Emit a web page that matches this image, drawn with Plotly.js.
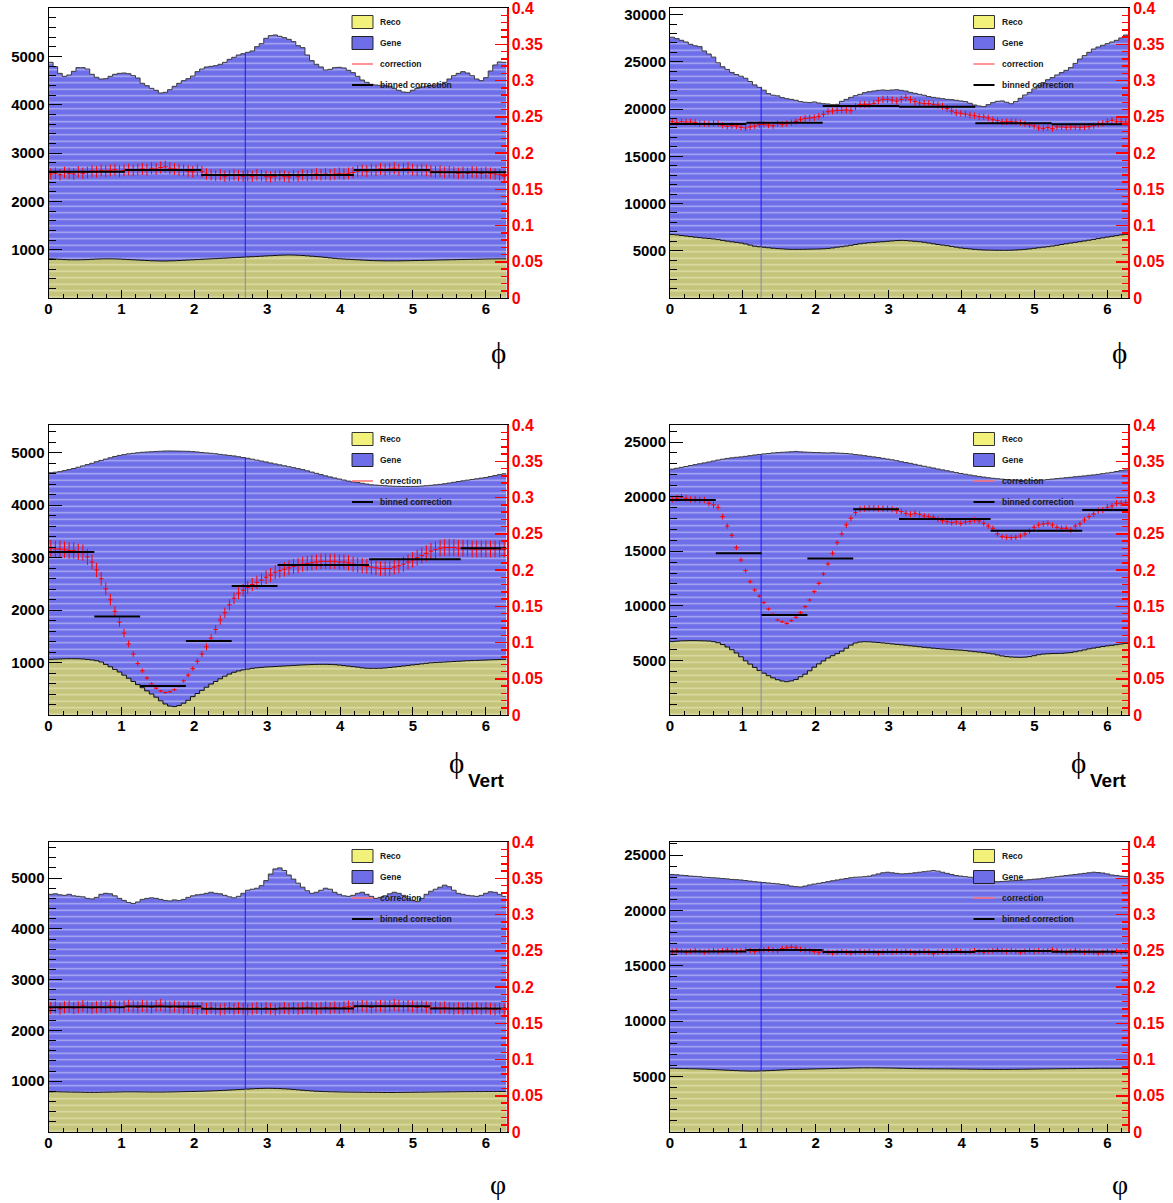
<!DOCTYPE html>
<html><head><meta charset="utf-8">
<script src="https://cdn.plot.ly/plotly-3.0.1.min.js"></script>
<style>body{margin:0;background:#fff}#chart{width:1173px;height:1203px}</style>
</head><body><div id="chart"></div>
<script>
// ---------- data (100 fine bins in phi, 0..2pi) ----------
const legendLabels = ['Reco', 'Gene', 'correction', 'binned correction'];
const yTickLabelsSmall = [1000, 2000, 3000, 4000, 5000];
const yTickLabelsLarge = [5000, 10000, 15000, 20000, 25000, 30000];
const xTickLabels = [0, 1, 2, 3, 4, 5, 6];
const redTickVals = [0, 0.05, 0.1, 0.15, 0.2, 0.25, 0.3, 0.35, 0.4];
const redTickText = ['0', '0.05', '0.1', '0.15', '0.2', '0.25', '0.3', '0.35', '0.4'];

// Panel 1 (top left, phi)
const gene1 = [4876,4786,4648,4586,4614,4690,4766,4766,4738,4628,
 4566,4531,4538,4586,4628,4648,4655,4641,4600,4552,
 4442,4393,4338,4297,4242,4255,4310,4380,4442,4497,
 4538,4593,4683,4738,4780,4793,4807,4835,4876,4938,
 4980,5028,5055,5083,5111,5200,5262,5373,5428,5442,
 5414,5387,5352,5304,5221,5180,5028,4911,4835,4780,
 4717,4731,4766,4773,4759,4711,4662,4586,4510,4462,
 4421,4407,4400,4393,4380,4338,4297,4262,4255,4297,
 4338,4366,4380,4393,4407,4421,4462,4531,4600,4648,
 4683,4655,4600,4531,4497,4559,4697,4821,4883,4876];
const reco1 = [810,805,800,795,790,790,790,792,795,800,
 805,808,810,810,808,805,800,795,790,785,
 780,775,770,768,765,765,768,770,775,780,
 785,790,795,800,805,810,815,820,825,830,
 835,840,845,850,855,860,865,870,875,880,
 885,888,890,888,885,880,872,865,857,850,
 840,830,820,812,805,800,795,790,785,780,
 775,772,770,768,768,768,768,770,772,774,
 776,778,780,782,784,786,788,790,792,794,
 796,798,800,802,804,806,808,808,810,810];
const corr1 = [0.171,0.172,0.170,0.173,0.172,0.171,0.174,0.172,0.173,0.175,
 0.174,0.176,0.175,0.176,0.177,0.175,0.176,0.177,0.176,0.177,
 0.178,0.177,0.179,0.178,0.180,0.181,0.179,0.178,0.177,0.176,
 0.175,0.174,0.176,0.174,0.171,0.170,0.169,0.170,0.168,0.169,
 0.170,0.169,0.168,0.169,0.168,0.170,0.169,0.168,0.167,0.168,
 0.169,0.168,0.167,0.169,0.168,0.170,0.169,0.170,0.171,0.170,
 0.171,0.170,0.171,0.172,0.171,0.172,0.173,0.175,0.176,0.175,
 0.177,0.176,0.178,0.177,0.178,0.179,0.177,0.178,0.179,0.177,
 0.176,0.177,0.176,0.175,0.174,0.175,0.173,0.174,0.173,0.172,
 0.173,0.172,0.174,0.173,0.172,0.173,0.172,0.171,0.170,0.168];
const binned1 = [0.174, 0.1766, 0.1697, 0.1697, 0.1766, 0.1733];

// Panel 2 (top right, phi)
const gene2 = [27600,27460,27280,27100,26860,26700,26610,26150,25830,25500,
 24900,24480,24200,23880,23660,23480,23260,22920,22560,22300,
 22000,21640,21470,21400,21210,21100,21030,20930,20790,20720,
 20680,20750,20640,20570,20540,20470,20500,20820,21030,21240,
 21420,21560,21740,21840,21910,21980,22020,21980,22020,22050,
 21980,21910,21770,21670,21560,21460,21320,21240,21170,21100,
 21030,21000,20930,20860,20790,20610,20430,20330,20260,20470,
 20680,20820,20860,20720,20570,20790,21140,21490,21770,22130,
 22480,22800,23110,23330,23610,23860,24100,24390,24840,25300,
 25660,26010,26360,26570,26750,26930,27100,27280,27530,27840];
const reco2 = [6720,6680,6620,6560,6500,6440,6390,6340,6300,6250,
 6180,6100,6020,5950,5890,5820,5720,5600,5480,5420,
 5370,5320,5270,5230,5200,5170,5150,5150,5150,5160,
 5170,5180,5190,5210,5250,5300,5380,5430,5500,5580,
 5660,5740,5800,5850,5890,5930,5960,6000,6040,6080,
 6100,6080,6040,6000,5960,5900,5820,5740,5660,5600,
 5540,5460,5380,5300,5250,5200,5150,5110,5080,5070,
 5060,5050,5050,5050,5060,5080,5110,5150,5200,5260,
 5320,5380,5430,5500,5580,5660,5740,5820,5890,5960,
 6040,6120,6200,6290,6370,6450,6530,6600,6680,6740];
const corr2 = [0.2432,0.2423,0.2432,0.2428,0.2428,0.2423,0.2405,0.2405,0.2400,0.2409,
 0.2405,0.2382,0.2368,0.2377,0.2373,0.2354,0.2345,0.2359,0.2373,0.2391,
 0.2396,0.2386,0.2377,0.2405,0.2396,0.2405,0.2418,0.2437,0.2460,0.2478,
 0.2483,0.2488,0.2506,0.2534,0.2570,0.2579,0.2589,0.2589,0.2593,0.2584,
 0.2639,0.2667,0.2671,0.2671,0.2685,0.2722,0.2740,0.2740,0.2731,0.2717,
 0.2740,0.2763,0.2736,0.2708,0.2690,0.2685,0.2681,0.2671,0.2662,0.2644,
 0.2616,0.2579,0.2556,0.2547,0.2538,0.2524,0.2515,0.2501,0.2497,0.2483,
 0.2460,0.2446,0.2428,0.2432,0.2432,0.2428,0.2418,0.2400,0.2386,0.2373,
 0.2345,0.2340,0.2350,0.2336,0.2359,0.2359,0.2354,0.2359,0.2359,0.2354,
 0.2359,0.2363,0.2377,0.2396,0.2409,0.2432,0.2451,0.2432,0.2432,0.2428];
const binned2 = [0.2400, 0.2418, 0.2648, 0.2639, 0.2409, 0.2396];

// Panel 3 (middle left, phi_Vert)
const gene3 = [4620,4630,4640,4660,4680,4700,4725,4750,4775,4800,
 4830,4855,4880,4905,4930,4950,4965,4980,4990,5000,
 5010,5015,5020,5025,5030,5034,5035,5034,5032,5030,
 5028,5022,5015,5005,4998,4990,4982,4970,4960,4950,
 4940,4925,4910,4895,4878,4860,4842,4825,4806,4788,
 4770,4752,4734,4716,4698,4680,4656,4632,4608,4584,
 4560,4540,4520,4500,4480,4460,4446,4432,4418,4404,
 4390,4384,4378,4372,4366,4362,4360,4358,4358,4359,
 4360,4366,4372,4380,4389,4398,4410,4424,4438,4452,
 4465,4478,4491,4504,4517,4530,4548,4566,4584,4600];
const reco3 = [1060,1065,1068,1072,1074,1074,1072,1068,1060,1050,
 1035,1010,965,920,870,820,760,700,640,580,
 520,460,400,340,270,210,170,160,180,225,
 280,350,410,470,530,590,640,690,740,780,
 815,840,860,875,890,900,908,915,920,925,
 930,935,940,945,950,955,958,962,965,966,
 966,964,960,952,942,932,922,912,900,892,
 890,890,892,898,906,915,925,935,945,955,
 965,975,985,995,1000,1005,1010,1015,1020,1025,
 1030,1035,1038,1042,1045,1048,1052,1055,1058,1061];
const corr3 = [0.230,0.229,0.229,0.228,0.227,0.227,0.225,0.224,0.218,0.211,
 0.200,0.188,0.174,0.159,0.143,0.128,0.113,0.098,0.084,0.071,
 0.061,0.051,0.043,0.037,0.033,0.031,0.032,0.035,0.040,0.047,
 0.055,0.064,0.074,0.084,0.094,0.106,0.118,0.131,0.141,0.152,
 0.161,0.168,0.172,0.176,0.180,0.183,0.186,0.190,0.193,0.197,
 0.199,0.201,0.203,0.205,0.206,0.208,0.209,0.210,0.211,0.212,
 0.212,0.212,0.212,0.211,0.211,0.210,0.208,0.207,0.206,0.205,
 0.204,0.203,0.202,0.202,0.202,0.204,0.206,0.208,0.211,0.214,
 0.217,0.220,0.223,0.226,0.228,0.230,0.231,0.231,0.231,0.230,
 0.230,0.230,0.229,0.229,0.229,0.229,0.229,0.229,0.229,0.229];
const binned3 = [0.225, 0.136, 0.040, 0.102, 0.178, 0.207, 0.207, 0.215, 0.215, 0.230];

// Panel 4 (middle right, phi_Vert)
const gene4 = [22520,22600,22680,22760,22850,22930,23010,23090,23170,23260,
 23350,23430,23500,23550,23600,23640,23690,23750,23810,23860,
 23910,23950,24000,24030,24060,24080,24110,24140,24100,24080,
 24060,24040,24030,24010,24000,24020,23990,23970,23950,23910,
 23850,23810,23750,23690,23640,23580,23510,23440,23370,23290,
 23200,23120,23050,22960,22870,22780,22700,22620,22530,22450,
 22370,22280,22200,22120,22050,21980,21910,21850,21790,21730,
 21680,21640,21600,21560,21520,21500,21480,21460,21460,21480,
 21500,21520,21560,21610,21650,21690,21730,21770,21820,21860,
 21900,21950,21990,22040,22100,22160,22220,22300,22380,22450];
const reco4 = [6720,6760,6790,6800,6810,6810,6800,6790,6770,6720,
 6620,6450,6230,5980,5680,5330,4960,4660,4360,4080,
 3830,3600,3400,3230,3110,3050,3120,3260,3500,3740,
 4050,4380,4680,4950,5220,5430,5620,5850,6120,6400,
 6600,6680,6710,6700,6670,6640,6600,6560,6510,6470,
 6430,6390,6340,6300,6250,6200,6160,6120,6080,6050,
 6020,5990,5960,5940,5900,5850,5800,5760,5710,5660,
 5600,5500,5410,5350,5310,5290,5280,5300,5350,5430,
 5520,5580,5610,5630,5640,5650,5680,5720,5790,5870,
 5960,6060,6130,6200,6270,6330,6380,6440,6500,6560];
const corr4 = [0.2975,0.2989,0.3003,0.2989,0.2975,0.2975,0.2966,0.2966,0.2920,0.2897,
 0.2865,0.2736,0.2607,0.2478,0.2308,0.2138,0.1991,0.1839,0.1724,0.1641,
 0.1550,0.1462,0.1389,0.1310,0.1287,0.1264,0.1301,0.1347,0.1412,0.1494,
 0.1586,0.1701,0.1816,0.1945,0.2083,0.2230,0.2377,0.2497,0.2621,0.2713,
 0.2791,0.2837,0.2846,0.2851,0.2851,0.2846,0.2846,0.2846,0.2837,0.2819,
 0.2805,0.2782,0.2768,0.2782,0.2768,0.2745,0.2736,0.2727,0.2699,0.2681,
 0.2667,0.2653,0.2662,0.2644,0.2662,0.2671,0.2690,0.2676,0.2644,0.2607,
 0.2575,0.2497,0.2460,0.2451,0.2446,0.2451,0.2469,0.2497,0.2538,0.2589,
 0.2621,0.2635,0.2644,0.2621,0.2589,0.2575,0.2575,0.2552,0.2607,0.2635,
 0.2690,0.2736,0.2773,0.2819,0.2828,0.2865,0.2883,0.2920,0.2920,0.2929];
const binned4 = [0.2966, 0.2230, 0.1379, 0.2160, 0.2837, 0.2703, 0.2703, 0.2543, 0.2543, 0.2828];

// Panel 5 (bottom left, varphi)
const gene5 = [4680,4690,4670,4660,4680,4650,4640,4630,4600,4590,
 4620,4680,4700,4690,4650,4600,4560,4520,4500,4530,
 4580,4600,4610,4600,4580,4560,4550,4570,4560,4580,
 4620,4650,4670,4680,4700,4720,4700,4690,4660,4630,
 4610,4640,4700,4760,4780,4800,4850,4950,5080,5180,
 5200,5150,5060,4980,4900,4820,4750,4700,4720,4760,
 4800,4780,4720,4680,4650,4640,4660,4700,4720,4680,
 4640,4600,4620,4650,4690,4720,4700,4660,4600,4560,
 4540,4600,4680,4740,4780,4820,4860,4830,4760,4700,
 4680,4660,4650,4640,4660,4700,4730,4720,4680,4640];
const reco5 = [790,792,790,788,786,785,784,782,780,780,
 780,782,784,785,786,788,790,790,790,789,
 788,787,786,786,786,787,788,790,792,794,
 796,798,800,802,805,808,812,816,820,825,
 830,835,840,845,850,855,858,860,860,858,
 855,850,845,838,830,822,815,808,802,798,
 795,792,790,788,786,785,784,783,782,781,
 780,780,779,778,778,778,779,780,781,782,
 783,784,785,786,787,788,789,790,791,792,
 793,794,794,795,795,796,796,796,797,797];
const corr5 = [0.171,0.172,0.170,0.172,0.173,0.171,0.172,0.174,0.172,0.171,
 0.172,0.173,0.172,0.174,0.173,0.172,0.173,0.174,0.173,0.172,
 0.174,0.173,0.172,0.174,0.175,0.173,0.172,0.173,0.172,0.171,
 0.172,0.171,0.170,0.171,0.170,0.171,0.170,0.169,0.170,0.171,
 0.170,0.171,0.170,0.169,0.170,0.171,0.170,0.171,0.170,0.169,
 0.170,0.171,0.170,0.171,0.170,0.171,0.172,0.171,0.170,0.171,
 0.172,0.171,0.172,0.171,0.172,0.173,0.172,0.173,0.174,0.173,
 0.172,0.173,0.174,0.173,0.174,0.175,0.174,0.173,0.174,0.173,
 0.172,0.173,0.172,0.171,0.172,0.171,0.172,0.171,0.170,0.171,
 0.170,0.171,0.170,0.171,0.170,0.171,0.170,0.169,0.170,0.169];
const binned5 = [0.1720, 0.1730, 0.1700, 0.1705, 0.1735, 0.1705];

// Panel 6 (bottom right, varphi)
const gene6 = [23250,23220,23180,23150,23100,23080,23050,23000,22980,22950,
 22920,22880,22850,22800,22780,22750,22700,22650,22600,22560,
 22520,22480,22440,22400,22350,22300,22200,22150,22120,22200,
 22300,22380,22450,22520,22600,22680,22750,22820,22880,22950,
 23000,23020,23050,23100,23200,23300,23400,23450,23400,23350,
 23300,23320,23350,23400,23450,23500,23550,23600,23550,23450,
 23350,23250,23150,23100,23050,23000,22950,22900,22800,22700,
 22650,22600,22620,22650,22680,22700,22720,22750,22780,22820,
 22850,22900,22950,23000,23050,23100,23150,23200,23250,23300,
 23350,23400,23450,23420,23380,23300,23200,23150,23100,23050];
const reco6 = [5750,5740,5730,5720,5710,5700,5690,5680,5660,5640,
 5620,5600,5580,5560,5540,5520,5510,5500,5500,5510,
 5520,5540,5560,5580,5600,5620,5640,5650,5660,5670,
 5680,5690,5700,5710,5720,5730,5740,5750,5760,5770,
 5780,5785,5790,5790,5790,5785,5780,5775,5770,5760,
 5750,5740,5730,5720,5715,5710,5705,5700,5700,5700,
 5700,5695,5690,5685,5680,5675,5670,5665,5660,5655,
 5650,5650,5650,5650,5655,5660,5665,5670,5675,5680,
 5685,5690,5695,5700,5705,5710,5715,5720,5725,5730,
 5735,5740,5745,5750,5750,5750,5750,5750,5750,5750];
const corr6 = [0.249,0.250,0.249,0.248,0.249,0.250,0.249,0.248,0.249,0.250,
 0.249,0.250,0.251,0.250,0.249,0.250,0.251,0.250,0.249,0.250,
 0.251,0.252,0.251,0.250,0.253,0.254,0.255,0.254,0.252,0.251,
 0.250,0.249,0.248,0.249,0.248,0.247,0.248,0.249,0.248,0.247,
 0.248,0.249,0.248,0.249,0.248,0.247,0.248,0.249,0.248,0.249,
 0.248,0.249,0.248,0.247,0.248,0.249,0.248,0.246,0.248,0.249,
 0.248,0.249,0.250,0.249,0.248,0.249,0.250,0.249,0.248,0.249,
 0.250,0.251,0.250,0.249,0.250,0.249,0.248,0.249,0.250,0.249,
 0.250,0.249,0.250,0.251,0.250,0.249,0.248,0.249,0.250,0.249,
 0.248,0.249,0.248,0.247,0.248,0.249,0.248,0.249,0.248,0.249];
const binned6 = [0.2490, 0.2510, 0.2482, 0.2484, 0.2495, 0.2485];

const geneAll = [gene1, gene2, gene3, gene4, gene5, gene6];
const recoAll = [reco1, reco2, reco3, reco4, reco5, reco6];
const corrAll = [corr1, corr2, corr3, corr4, corr5, corr6];
const binnedAll = [binned1, binned2, binned3, binned4, binned5, binned6];
const cutPhi = [2.7, 1.25, 2.7, 1.25, 2.7, 1.25];           // vertical marker position
const corrErrPct = [4.6, 1.8, 5.0, 1.5, 4.8, 1.5];          // relative error bar size (%)
const yMaxAll = [6000, 30700, 5530, 26560, 5710, 26180];

// ---------- layout helpers ----------
const W = 1173, H = 1203;
const colX = [[48.5, 506.5], [670, 1128]];
const rowY = [[8, 298], [425, 715], [842, 1132]];
const TWO_PI = 2 * Math.PI;
const nFine = gene1.length;
const binW = TWO_PI / nFine;

const FONT = 'Liberation Sans, Arial, Helvetica, sans-serif';
const blueBg = '#6e6ee8', blueFg = '#adadf5';
const yelBg = '#c4c47c', yelFg = '#dedea8';

const traces = [];
const layout = {
  width: W, height: H,
  margin: {l: 0, r: 0, t: 0, b: 0},
  paper_bgcolor: '#fff', plot_bgcolor: '#fff',
  showlegend: false,
  shapes: [], annotations: []
};

const edges = [];
for (let i = 0; i <= nFine; i++) edges.push(i * binW);
const centers = [];
for (let i = 0; i < nFine; i++) centers.push((i + 0.5) * binW);

function stepY(arr) { return arr.concat([arr[arr.length - 1]]); }

for (let p = 0; p < 6; p++) {
  const row = Math.floor(p / 2), col = p % 2;
  const k = p + 1;
  const xa = 'x' + (k === 1 ? '' : k);
  const ya = 'y' + (k === 1 ? '' : k);
  const ra = 'y' + (k + 6);
  const xdom = [colX[col][0] / W, colX[col][1] / W];
  const ydom = [1 - rowY[row][1] / H, 1 - rowY[row][0] / H];
  const large = col === 1;

  layout['xaxis' + (k === 1 ? '' : k)] = {
    domain: xdom, anchor: ya, range: [0, TWO_PI],
    showline: true, linecolor: '#000', linewidth: 1, mirror: true,
    showgrid: false, zeroline: false,
    tickmode: 'array', tickvals: xTickLabels, ticktext: xTickLabels.map(String),
    ticks: 'inside', ticklen: 8, tickcolor: '#000', tickwidth: 1,
    ticklabelstandoff: -3,
    minor: {tickmode: 'linear', tick0: 0, dtick: 0.2, ticks: 'inside', ticklen: 4, tickcolor: '#000'},
    tickfont: {family: FONT, size: 15, color: '#000', weight: 'bold'},
    fixedrange: true
  };
  const yt = large ? yTickLabelsLarge.filter(v => v < yMaxAll[p]) : yTickLabelsSmall;
  layout['yaxis' + (k === 1 ? '' : k)] = {
    domain: ydom, anchor: xa, range: [0, yMaxAll[p]],
    showline: true, linecolor: '#000', linewidth: 1,
    showgrid: false, zeroline: false,
    tickmode: 'array', tickvals: yt, ticktext: yt.map(String),
    ticks: 'inside', ticklen: 13, tickcolor: '#000',
    ticklabeloverflow: 'allow',
    minor: {tickmode: 'linear', tick0: 0, dtick: large ? 1000 : 200, ticks: 'inside', ticklen: 7, tickcolor: '#000'},
    tickfont: {family: FONT, size: 15, color: '#000', weight: 'bold'},
    fixedrange: true
  };
  layout['yaxis' + (k + 6)] = {
    overlaying: ya, anchor: xa, side: 'right', range: [0, 0.4],
    showline: true, linecolor: '#ff0000', linewidth: 2,
    showgrid: false, zeroline: false,
    tickmode: 'array', tickvals: redTickVals, ticktext: redTickText,
    ticks: 'inside', ticklen: 12, tickcolor: '#ff0000', tickwidth: 1.5,
    ticklabeloverflow: 'allow',
    minor: {tickmode: 'linear', tick0: 0, dtick: 0.01, ticks: 'inside', ticklen: 6, tickcolor: '#ff0000'},
    tickfont: {family: FONT, size: 16, color: '#ff0000', weight: 'bold'},
    fixedrange: true
  };

  const gene = geneAll[p], reco = recoAll[p];
  // Gene histogram
  traces.push({
    type: 'scatter', mode: 'lines', x: edges, y: stepY(gene), xaxis: xa, yaxis: ya,
    line: {shape: 'hv', color: '#3a3a3a', width: 1},
    fill: 'tozeroy', fillcolor: blueBg,
    fillpattern: {shape: '-', bgcolor: blueBg, fgcolor: blueFg, size: 6.5, solidity: 0.22},
    hoverinfo: 'skip'
  });
  // marker line
  const ci = Math.floor(cutPhi[p] / binW);
  traces.push({
    type: 'scatter', mode: 'lines', x: [cutPhi[p], cutPhi[p]], y: [reco[ci], gene[ci]],
    xaxis: xa, yaxis: ya, line: {color: '#1a1aff', width: 1}, hoverinfo: 'skip'
  });
  // Reco histogram
  traces.push({
    type: 'scatter', mode: 'lines', x: edges, y: stepY(reco), xaxis: xa, yaxis: ya,
    line: {shape: 'hv', color: '#111', width: 1},
    fill: 'tozeroy', fillcolor: yelBg,
    fillpattern: {shape: '-', bgcolor: yelBg, fgcolor: yelFg, size: 6.5, solidity: 0.22},
    hoverinfo: 'skip'
  });
  traces.push({
    type: 'scatter', mode: 'lines', x: [cutPhi[p], cutPhi[p]], y: [0, reco[ci]],
    xaxis: xa, yaxis: ya, line: {color: '#8a8aa0', width: 1}, hoverinfo: 'skip'
  });
  // correction points
  traces.push({
    type: 'scatter', mode: 'markers', x: centers, y: corrAll[p], xaxis: xa, yaxis: ra,
    marker: {size: 1, color: '#ff0000'},
    error_y: {type: 'percent', value: corrErrPct[p], color: '#ff0000', thickness: 1, width: 0},
    error_x: {type: 'constant', value: binW / 2, color: '#ff0000', thickness: 1, width: 0},
    hoverinfo: 'skip'
  });
  // binned correction
  const nb = binnedAll[p].length;
  const bw = TWO_PI / nb;
  const bc = [];
  for (let j = 0; j < nb; j++) bc.push((j + 0.5) * bw);
  traces.push({
    type: 'scatter', mode: 'markers', x: bc, y: binnedAll[p], xaxis: xa, yaxis: ra,
    marker: {size: 1, color: '#000'},
    error_x: {type: 'constant', value: bw / 2, color: '#000', thickness: 2, width: 0},
    hoverinfo: 'skip'
  });

  // legend (transparent box, ROOT style)
  const xd = xa + ' domain', yd = ya + ' domain';
  const ent = [0.9517, 0.8793, 0.8069, 0.7345];
  const bx0 = 0.6627, bx1 = 0.7085, tx = 0.7205, bh = 0.0224;
  layout.shapes.push({type: 'rect', xref: xd, yref: yd, x0: bx0, x1: bx1, y0: ent[0] - bh, y1: ent[0] + bh,
    fillcolor: '#f2f27a', line: {color: '#333', width: 1}});
  layout.shapes.push({type: 'rect', xref: xd, yref: yd, x0: bx0, x1: bx1, y0: ent[1] - bh, y1: ent[1] + bh,
    fillcolor: '#6e6ee8', line: {color: '#222', width: 1}});
  layout.shapes.push({type: 'line', xref: xd, yref: yd, x0: bx0, x1: bx1, y0: ent[2], y1: ent[2],
    line: {color: '#ff7070', width: 1.5}});
  layout.shapes.push({type: 'line', xref: xd, yref: yd, x0: bx0, x1: bx1, y0: ent[3], y1: ent[3],
    line: {color: '#000', width: 2}});
  for (let e = 0; e < 4; e++) {
    layout.annotations.push({xref: xd, yref: yd, x: tx, y: ent[e], xanchor: 'left', yanchor: 'middle',
      text: legendLabels[e], showarrow: false,
      font: {family: FONT, size: 8.5, color: '#1a1a1a', weight: 'bold'}});
  }

  // axis title (placed at the right end, ROOT style)
  const xr = colX[col][1];
  if (row === 0) {
    layout.annotations.push({xref: 'paper', yref: 'paper', x: (xr - 8.5) / W, y: 1 - 353 / H,
      xanchor: 'center', yanchor: 'middle', text: 'ϕ', showarrow: false,
      font: {family: 'Liberation Serif, DejaVu Serif, serif', size: 29, color: '#000'}});
  } else if (row === 1) {
    layout.annotations.push({xref: 'paper', yref: 'paper', x: (xr - 50) / W, y: 1 - 763 / H,
      xanchor: 'center', yanchor: 'middle', text: 'ϕ', showarrow: false,
      font: {family: 'Liberation Serif, DejaVu Serif, serif', size: 29, color: '#000'}});
    layout.annotations.push({xref: 'paper', yref: 'paper', x: (xr - 20) / W, y: 1 - 780 / H,
      xanchor: 'center', yanchor: 'middle', text: 'Vert', showarrow: false,
      font: {family: FONT, size: 19, color: '#000', weight: 'bold'}});
  } else {
    layout.annotations.push({xref: 'paper', yref: 'paper', x: (xr - 8.5) / W, y: 1 - 1184 / H,
      xanchor: 'center', yanchor: 'middle', text: 'φ', showarrow: false,
      font: {family: 'Liberation Serif, DejaVu Serif, serif', size: 28, color: '#000'}});
  }
}

Plotly.newPlot('chart', traces, layout, {staticPlot: true, displayModeBar: false});
</script>
</body></html>
